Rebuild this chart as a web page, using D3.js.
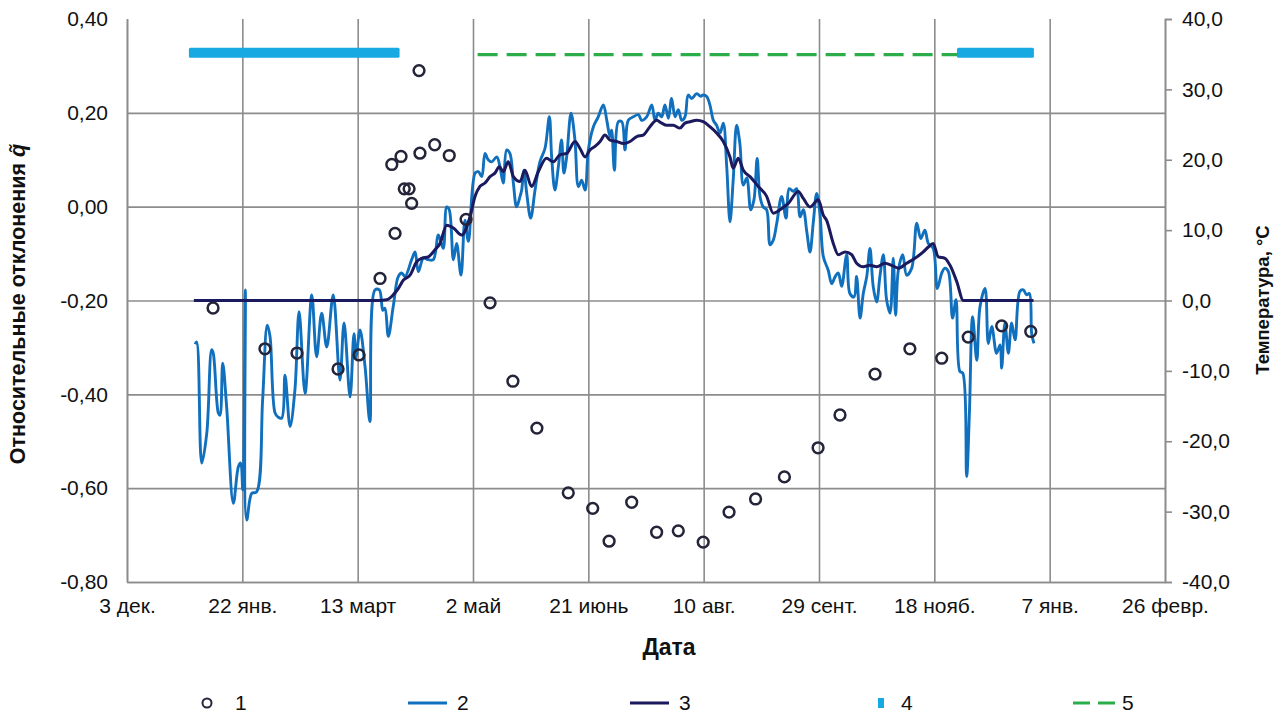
<!DOCTYPE html>
<html>
<head>
<meta charset="utf-8">
<script src="https://cdn.jsdelivr.net/npm/d3@7"></script>
<style>
  html, body { margin: 0; padding: 0; background: #fff; }
  svg { display: block; font-family: "Liberation Sans", Arial, sans-serif; }
</style>
</head>
<body>
<svg id="chart" width="1281" height="715"></svg>
<script>
// ---------- data (day 0 = 3 dec.) ----------
const xTickDays = [0, 50, 100, 150, 200, 250, 300, 350, 400, 450];
const xTickLabels = ["3 дек.", "22 янв.", "13 март", "2 май", "21 июнь", "10 авг.", "29 сент.", "18 нояб.", "7 янв.", "26 февр."];
const leftTicks = [0.40, 0.20, 0.00, -0.20, -0.40, -0.60, -0.80];
const rightTicks = [40, 30, 20, 10, 0, -10, -20, -30, -40];

// series 1: relative deviations q~ (left axis)
const s1Days = [37.3, 59.8, 73.7, 91.5, 100.6, 109.7, 114.8, 116.2, 118.8, 120.2, 122.3, 123.4, 126.6, 127.0, 133.4, 139.7, 147.0, 157.4, 167.3, 177.7,
  191.3, 201.9, 209.0, 218.8, 229.6, 239.0, 249.8, 261.0, 272.5, 285.0, 299.6, 309.1, 324.3, 339.4, 353.2, 364.7, 379.2, 391.8];
const s1Values = [-0.216, -0.303, -0.312, -0.346, -0.316, -0.153, 0.090, -0.057, 0.107, 0.038, 0.038, 0.007, 0.290, 0.114, 0.132, 0.109, -0.027, -0.205, -0.372, -0.472,
  -0.610, -0.643, -0.713, -0.630, -0.694, -0.691, -0.715, -0.651, -0.623, -0.576, -0.514, -0.444, -0.357, -0.303, -0.323, -0.278, -0.254, -0.266];

// series 2: daily temperature, °C (right axis)
const s2Days = [29.5, 30.2, 32.4, 34.6, 36.7, 37.4, 39.6, 40.3, 41.5, 43.2, 46.1, 48.3, 49.3, 50.2, 51.3, 51.9, 54.1, 56.2, 58.8, 60.8,
  62.0, 64.2, 65.6, 67.1, 68.5, 70.7, 72.8, 74.6, 77.2, 80.1, 82.2, 84.4, 86.6, 89.4, 92.3, 94.1, 96.7, 98.4, 99.3, 101.0,
  103.2, 105.3, 107.5, 109.4, 110.9, 111.8, 113.3, 115.4, 117.6, 119.1, 120.5, 123.4, 124.9, 126.3, 128.5, 130.6, 132.8, 135.0, 137.1, 138.6,
  139.7, 141.5, 142.9, 144.8, 146.5, 148.0, 150.9, 152.3, 153.8, 155.2, 156.6, 158.1, 160.3, 161.7, 163.1, 164.6, 166.0, 167.5, 168.9, 170.4,
  171.1, 172.1, 173.3, 175.0, 176.9, 179.0, 181.2, 183.1, 184.1, 185.5, 187.0, 188.4, 189.4, 190.6, 192.5, 194.2, 195.7, 197.1, 198.6, 200.0,
  202.2, 204.3, 206.5, 208.0, 209.4, 210.1, 211.3, 213.0, 214.5, 215.9, 217.3, 219.5, 221.7, 223.1, 225.3, 227.5, 228.9, 230.3, 231.8, 233.2,
  234.7, 236.1, 237.6, 239.0, 240.5, 241.9, 243.3, 244.8, 247.0, 248.7, 249.8, 251.3, 252.7, 254.2, 255.6, 257.1, 258.5, 260.0, 261.4, 262.8,
  264.3, 265.7, 267.2, 268.7, 270.4, 271.8, 273.2, 274.4, 275.8, 277.3, 278.8, 280.2, 281.7, 283.8, 285.7, 287.1, 288.9, 290.3, 291.8, 293.2,
  294.7, 296.1, 297.5, 299.0, 300.4, 301.9, 304.0, 305.5, 307.0, 308.4, 309.8, 312.0, 313.4, 315.2, 316.3, 317.8, 319.2, 320.7, 322.1, 323.5,
  325.0, 326.4, 327.9, 329.3, 330.8, 332.2, 333.2, 334.4, 336.3, 338.0, 340.2, 342.4, 344.1, 345.9, 347.4, 349.5, 351.3, 353.2, 354.6, 356.1,
  357.9, 359.4, 361.1, 362.3, 364.0, 365.2, 366.6, 368.4, 369.8, 372.0, 373.4, 374.9, 377.0, 378.5, 379.2, 380.6, 382.1, 383.5, 385.0, 387.1,
  388.6, 390.0, 391.2, 392.2, 393.2];
const s2Values = [-6.2, -5.9, -23.1, -18.8, -7.0, -7.5, -16.0, -16.3, -8.9, -15.1, -28.8, -23.6, -23.1, -26.9, 1.5, -31.2, -27.4, -27.2, -14.1, -3.5,
  -5.1, -16.0, -16.6, -16.7, -10.6, -17.9, -12.7, -1.6, -13.2, 0.8, -8.0, -1.8, -6.6, 0.8, -11.3, -3.2, -13.7, -4.7, -8.0, -4.2,
  -9.4, -17.2, 1.5, 1.5, -1.4, -1.1, -5.1, -0.9, 3.4, 3.9, 3.4, 5.8, 6.9, 4.1, 6.0, 5.8, 5.8, 9.3, 7.4, 13.3,
  12.9, 5.8, 8.1, 3.6, 11.4, 8.4, 18.1, 18.3, 17.6, 20.9, 20.0, 19.7, 20.4, 19.0, 16.7, 21.4, 20.9, 16.7, 13.3, 14.8,
  15.7, 18.5, 15.2, 11.7, 15.7, 19.7, 21.6, 26.1, 20.4, 15.7, 19.0, 22.8, 18.1, 20.4, 26.6, 22.8, 16.2, 17.1, 15.7, 21.4,
  24.7, 26.1, 27.8, 25.6, 23.3, 24.2, 18.5, 25.4, 25.4, 21.4, 25.6, 26.1, 26.4, 25.6, 26.1, 27.8, 25.6, 26.6, 26.1, 27.8,
  25.9, 28.7, 26.1, 27.1, 25.6, 26.1, 29.2, 28.7, 29.4, 29.0, 29.2, 29.0, 27.8, 25.6, 24.9, 23.8, 25.2, 19.0, 11.2, 17.1,
  24.9, 22.3, 16.4, 17.4, 12.9, 14.3, 20.2, 14.8, 13.3, 12.9, 7.9, 8.6, 11.0, 14.8, 11.7, 15.9, 15.5, 15.9, 11.9, 12.9,
  9.8, 6.9, 11.0, 15.2, 12.4, 6.2, 4.3, 2.4, 3.4, 3.9, 2.0, 6.5, 1.0, 0.5, 3.4, -2.5, 1.0, 3.4, 7.4, 2.0,
  -0.2, 3.4, 6.5, 0.1, -1.8, 6.0, -2.1, 4.3, 6.5, 3.6, 4.6, 11.0, 8.8, 10.0, 8.1, 7.4, 1.7, 3.9, 4.6, 4.1,
  -2.5, 0.1, -10.1, -10.3, -25.0, -16.0, -2.3, -8.5, -0.9, 1.7, -6.1, -3.7, -7.5, -6.3, -9.6, -3.2, -7.5, -3.2, -5.6, 1.3,
  1.5, 0.8, 1.0, -4.7, -6.1];

// series 3: smoothed temperature, °C (right axis)
const s3Days = [29, 109, 112.6, 115.4, 117.6, 119.8, 122.7, 125.6, 127.8, 130.6, 133.5, 135.7, 138.6, 141.5, 145.1, 148.7, 150.9, 153.0, 155.2, 157.4,
  159.5, 161.4, 163.1, 165.3, 167.5, 170.4, 172.5, 175.4, 178.3, 181.9, 184.8, 187.7, 190.6, 194.2, 196.4, 198.6, 200.7, 202.9, 205.1, 207.2,
  209.4, 212.3, 215.2, 218.1, 221.0, 223.8, 226.7, 229.6, 231.8, 234.0, 236.8, 239.7, 241.9, 244.1, 247.0, 249.8, 252.7, 255.6, 258.5, 261.4,
  262.8, 265.0, 267.2, 270.1, 273.7, 277.3, 280.2, 283.1, 286.7, 291.0, 293.2, 296.1, 299.7, 301.9, 303.3, 306.2, 308.4, 311.3, 314.2, 316.3,
  319.2, 322.1, 325.0, 328.6, 331.5, 334.4, 338.0, 341.6, 345.2, 347.4, 349.5, 351.7, 354.6, 356.8, 359.7, 362.6, 393];
const s3Values = [0, 0, 0.1, 0.8, 1.7, 2.9, 3.6, 5.5, 6.0, 6.2, 7.2, 8.1, 10.7, 10.3, 9.3, 11.9, 14.8, 16.2, 16.7, 17.6,
  18.1, 19.0, 18.3, 19.7, 17.6, 16.9, 18.5, 16.2, 18.3, 20.2, 19.7, 20.7, 20.9, 22.6, 21.6, 20.4, 21.4, 21.9, 22.6, 23.5,
  22.8, 22.6, 22.3, 22.6, 23.3, 23.5, 24.7, 25.6, 25.2, 24.9, 24.9, 24.5, 25.2, 25.4, 25.6, 25.4, 24.7, 23.8, 22.6, 20.4,
  18.8, 20.2, 18.5, 17.6, 16.2, 14.8, 12.4, 12.9, 13.8, 15.5, 14.5, 13.3, 14.3, 12.1, 11.4, 8.1, 6.5, 6.9, 6.5, 5.3,
  4.8, 5.0, 4.8, 5.3, 5.0, 4.6, 5.3, 6.0, 6.9, 7.6, 8.1, 6.2, 6.0, 5.0, 2.7, 0, 0];

// series 4: heating periods (start day, end day) shown at a fixed level
const s4Periods = [[29, 116], [362, 391]];
const s4Level = 0.328;
// series 5: non-heating period
const s5Period = [152, 360];
const s5Level = 0.324;

const legendLabels = ["1", "2", "3", "4", "5"];

// ---------- drawing ----------
const svg = d3.select("#chart");
const L = 127, R = 1165, T = 19, B = 582;
const x = d3.scaleLinear().domain([0, 450]).range([L, R]);
const yL = d3.scaleLinear().domain([-0.8, 0.4]).range([B, T]);
const yR = d3.scaleLinear().domain([-40, 40]).range([B, T]);
const grid = "#8c8c8c";
const fmt2 = d => d.toFixed(2).replace(".", ",");
const fmt1 = d => d.toFixed(1).replace(".", ",");
const FF = "Liberation Sans, Arial, sans-serif";

// horizontal gridlines
svg.append("g").attr("transform", `translate(${L},0)`)
  .call(d3.axisLeft(yL).tickValues(leftTicks.filter(v => v < 0.39)).tickSize(-(R - L)).tickFormat(""))
  .call(g => g.select(".domain").remove())
  .call(g => g.selectAll("line").attr("stroke", grid).attr("stroke-width", 1.6));
// vertical gridlines
svg.append("g").attr("transform", `translate(0,${B})`)
  .call(d3.axisBottom(x).tickValues(xTickDays).tickSize(-(B - T)).tickFormat(""))
  .call(g => g.select(".domain").remove())
  .call(g => g.selectAll("line").attr("stroke", grid).attr("stroke-width", 1.6));

// left axis labels
svg.append("g").attr("transform", `translate(${L},0)`)
  .call(d3.axisLeft(yL).tickValues(leftTicks).tickSize(0).tickPadding(19).tickFormat(fmt2))
  .call(g => g.select(".domain").attr("stroke", grid).attr("stroke-width", 1.6))
  .call(g => g.selectAll("text").attr("font-size", 21).attr("fill", "#111").attr("font-family", FF));
// right axis
svg.append("g").attr("transform", `translate(${R},0)`)
  .call(d3.axisRight(yR).tickValues(rightTicks).tickSize(7).tickPadding(10).tickFormat(fmt1))
  .call(g => g.select(".domain").attr("stroke", grid).attr("stroke-width", 1.6))
  .call(g => g.selectAll("line").attr("stroke", grid).attr("stroke-width", 1.6))
  .call(g => g.selectAll("text").attr("font-size", 21).attr("fill", "#111").attr("font-family", FF));
// bottom axis
svg.append("g").attr("transform", `translate(0,${B})`)
  .call(d3.axisBottom(x).tickValues(xTickDays).tickSize(0).tickPadding(16).tickFormat((d, i) => xTickLabels[i]))
  .call(g => g.select(".domain").attr("stroke", grid).attr("stroke-width", 1.6))
  .call(g => g.selectAll("text").attr("font-size", 21).attr("fill", "#111").attr("font-family", FF));

// axis titles
svg.append("text").attr("x", 669).attr("y", 655).attr("text-anchor", "middle")
  .attr("font-size", 23).attr("font-weight", "bold").attr("fill", "#111").text("Дата");
const lt = svg.append("text").attr("transform", "translate(25,304) rotate(-90)").attr("text-anchor", "middle")
  .attr("font-size", 21.5).attr("font-weight", "bold").attr("fill", "#111");
lt.append("tspan").text("Относительные отклонения ");
lt.append("tspan").attr("font-style", "italic").text("q\u0303");
svg.append("text").attr("transform", "translate(1269,300) rotate(-90)").attr("text-anchor", "middle")
  .attr("font-size", 18.5).attr("font-weight", "bold").attr("fill", "#111").text("Температура, °C");

// colors
const c2 = "#1170bd", c3 = "#1b1a5e", c4 = "#17a9e1", c5 = "#2bae4a", c1 = "#25253a";

// series 4 (heating periods) - thick bands of square markers
svg.append("g").selectAll("rect").data(s4Periods).join("rect")
  .attr("x", d => x(d[0]) - 5).attr("width", d => x(d[1]) - x(d[0]) + 10)
  .attr("y", yL(s4Level) - 5).attr("height", 10).attr("rx", 1.5)
  .attr("fill", c4);
// series 5
svg.append("line").attr("x1", x(s5Period[0])).attr("x2", x(s5Period[1]))
  .attr("y1", yL(s5Level)).attr("y2", yL(s5Level))
  .attr("stroke", c5).attr("stroke-width", 3.2).attr("stroke-dasharray", "20,9");

// series 2
const line2 = d3.line().x(d => x(d[0])).y(d => yR(d[1])).curve(d3.curveCatmullRom.alpha(0.5));
svg.append("path").datum(d3.zip(s2Days, s2Values)).attr("d", line2)
  .attr("fill", "none").attr("stroke", c2).attr("stroke-width", 2.9).attr("stroke-linejoin", "round");
// series 3
const line3 = d3.line().x(d => x(d[0])).y(d => yR(d[1])).curve(d3.curveMonotoneX);
svg.append("path").datum(d3.zip(s3Days, s3Values)).attr("d", line3)
  .attr("fill", "none").attr("stroke", c3).attr("stroke-width", 3).attr("stroke-linejoin", "round");

// series 1 circles
svg.append("g").selectAll("circle").data(d3.zip(s1Days, s1Values)).join("circle")
  .attr("cx", d => x(d[0])).attr("cy", d => yL(d[1])).attr("r", 5.4)
  .attr("fill", "none").attr("stroke", c1).attr("stroke-width", 2.5);

// legend
const ly = 703;
const leg = svg.append("g").attr("font-size", 21).attr("fill", "#111");
leg.append("circle").attr("cx", 207).attr("cy", ly).attr("r", 4.5).attr("fill", "none").attr("stroke", c1).attr("stroke-width", 2);
leg.append("line").attr("x1", 408).attr("x2", 447).attr("y1", ly).attr("y2", ly).attr("stroke", c2).attr("stroke-width", 3);
leg.append("line").attr("x1", 630).attr("x2", 669).attr("y1", ly).attr("y2", ly).attr("stroke", c3).attr("stroke-width", 3);
leg.append("rect").attr("x", 878).attr("y", ly - 5).attr("width", 6).attr("height", 10).attr("fill", c4);
leg.append("line").attr("x1", 1073).attr("x2", 1118).attr("y1", ly).attr("y2", ly).attr("stroke", c5).attr("stroke-width", 3.2).attr("stroke-dasharray", "17,8");
const legX = [235, 457, 679, 901, 1122];
leg.selectAll("text").data(legendLabels).join("text")
  .attr("x", (d, i) => legX[i]).attr("y", ly + 7).text(d => d);
</script>
</body>
</html>
